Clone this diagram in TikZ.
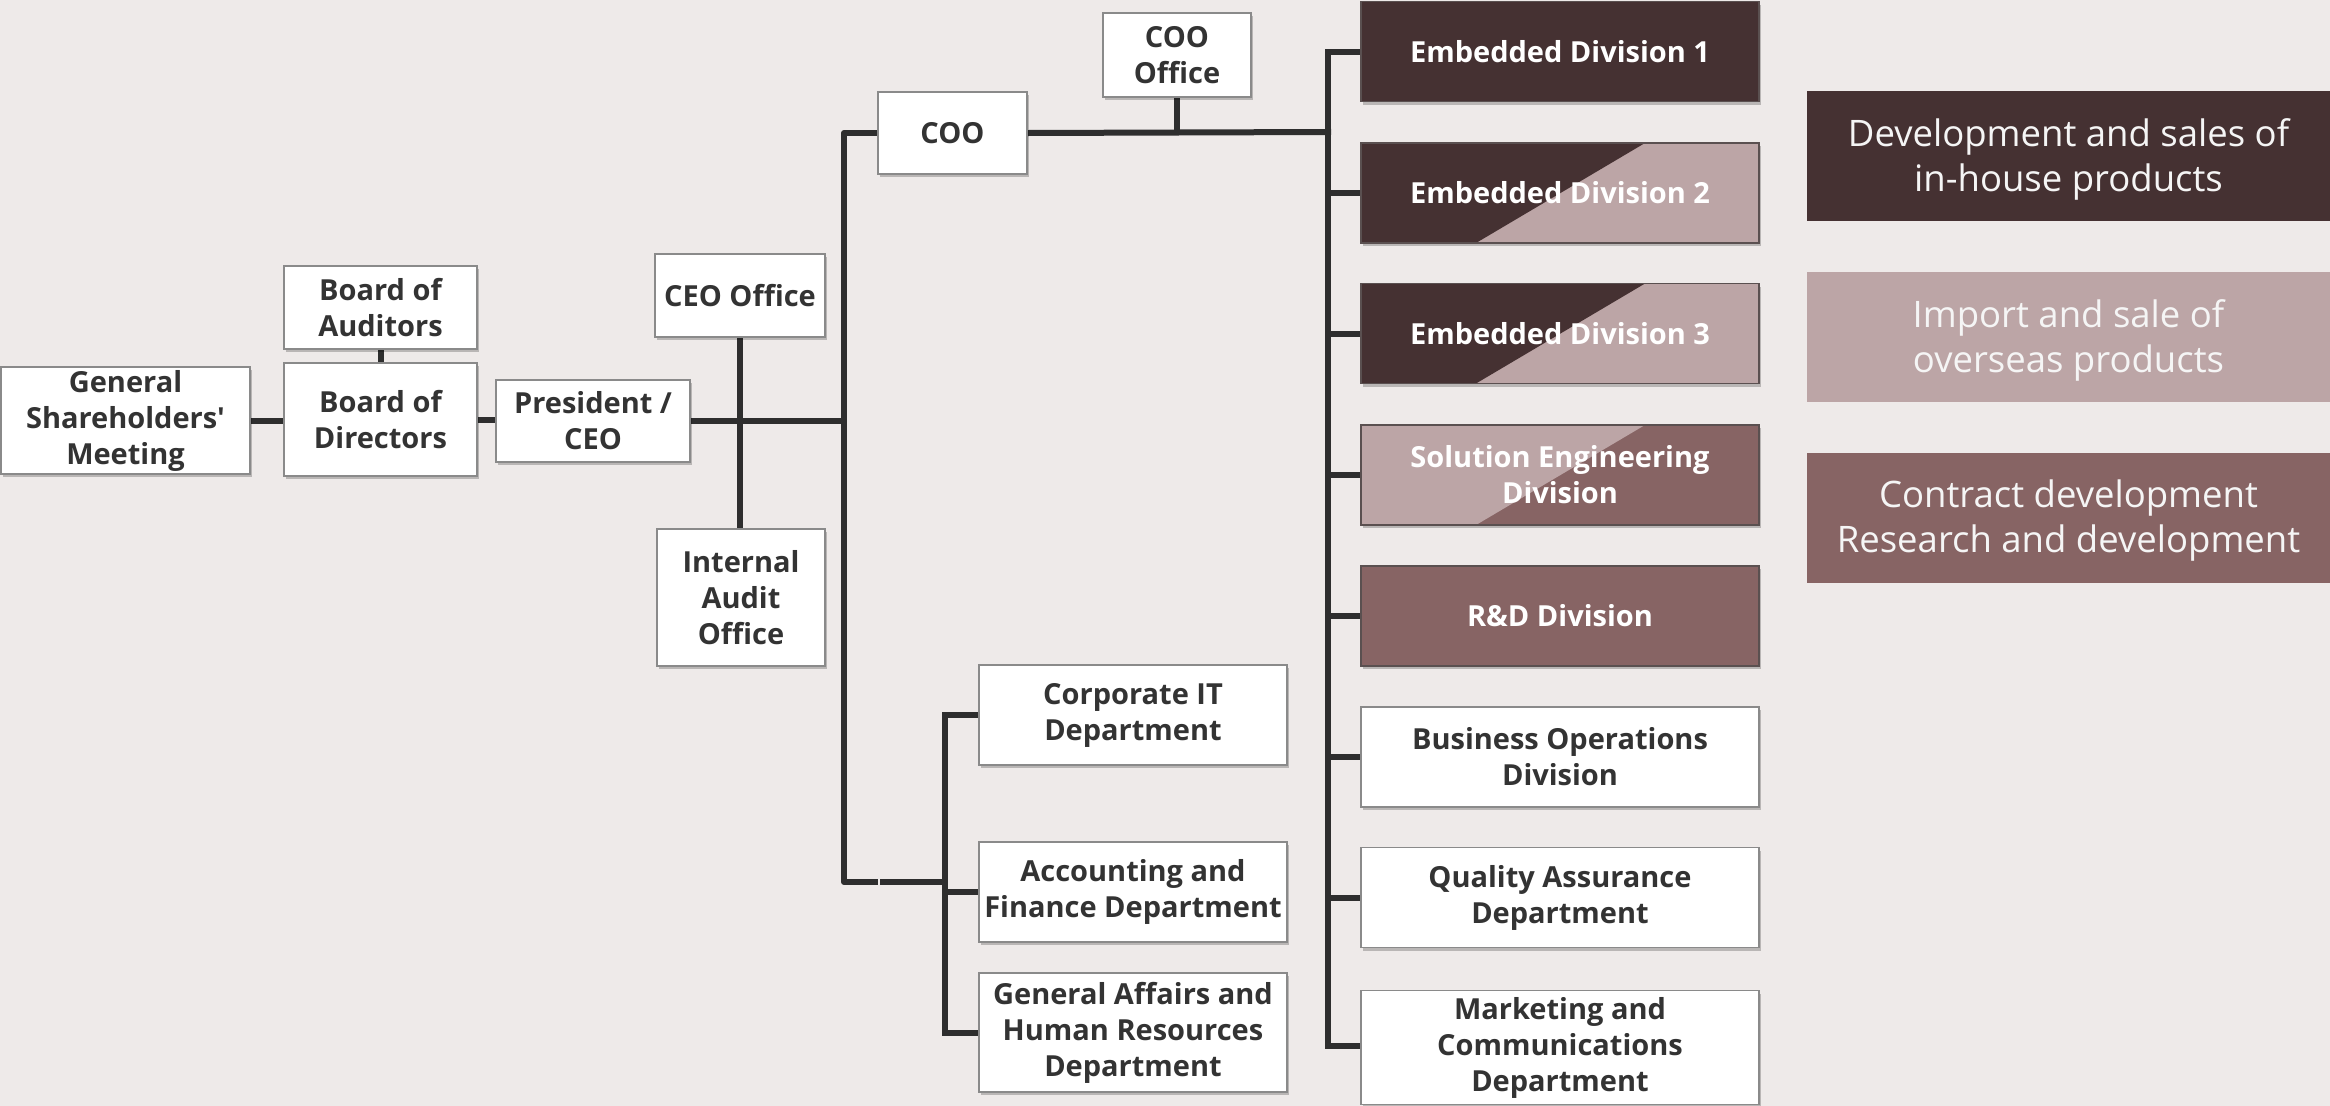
\documentclass[tikz,border=0pt]{standalone}
\usepackage{fontspec}
\setmainfont{Open Sans}[Ligatures=TeXOff]
\usetikzlibrary{shadows,backgrounds}
\definecolor{bg}{HTML}{EEEAE9}
\definecolor{dk}{HTML}{453132}
\definecolor{lt}{HTML}{BCA5A6}
\definecolor{md}{HTML}{876464}
\definecolor{ln}{HTML}{2E2E2E}
\definecolor{tx}{HTML}{333333}
\definecolor{boxline}{HTML}{8A8A8A}
\definecolor{colline}{HTML}{5A5050}
\begin{document}
\begin{tikzpicture}[x=1pt,y=-1pt,
  box/.style={draw=boxline, line width=1.5pt, fill=white, text=tx,
    font=\bfseries\fontsize{29}{36}\selectfont, align=center, inner sep=0pt,
    drop shadow={shadow xshift=1.5pt, shadow yshift=-3pt, fill=black, opacity=0.22}},
  colbox/.style={box, fill=#1, text=white, draw=colline},
  splitbox/.style 2 args={colbox=#2,
    path picture={\fill[#1] (path picture bounding box.north west) -- ++(284pt,0pt) -- ++(-169pt,-100pt) -- (path picture bounding box.south west) -- cycle;}},
  legend/.style={fill=#1, inner sep=0pt, minimum width=523pt, minimum height=130pt},
  legtext/.style={text=white!96!black, align=center, inner sep=0pt,
    font=\fontsize{36.5}{45}\selectfont},
  conn/.style={draw=ln, line width=6pt, line cap=rect, line join=round}
]
\useasboundingbox (0,0) rectangle (2330,1106);

% left part
\node[box, minimum width=249pt, minimum height=107pt] (gsm) at (125.5,420.5) {General\\Shareholders'\\Meeting};
\node[box, minimum width=193pt, minimum height=83pt] (boa) at (380.5,307.5) {Board of\\Auditors};
\node[box, minimum width=193pt, minimum height=113pt] (bod) at (380.5,419.5) {Board of\\Directors};
\node[box, minimum width=194pt, minimum height=82pt] (pres) at (593,421) {President /\\CEO};
\node[box, minimum width=170pt, minimum height=83pt] (ceoo) at (740,295.5) {CEO Office};
\node[box, minimum width=168pt, minimum height=137pt] (iao) at (741,597.5) {Internal\\Audit\\Office};
\node[box, minimum width=149pt, minimum height=82pt] (coo) at (952.5,133) {COO};
\node[box, minimum width=148pt, minimum height=84pt] (cooo) at (1177,55) {COO\\Office};

% divisions
\node[colbox=dk, minimum width=398pt, minimum height=100pt] (ed1) at (1560,51.5) {Embedded Division 1};
\node[splitbox={dk}{lt}, minimum width=398pt, minimum height=100pt] (ed2) at (1560,193) {Embedded Division 2};
\node[splitbox={dk}{lt}, minimum width=398pt, minimum height=100pt] (ed3) at (1560,333.5) {Embedded Division 3};
\node[splitbox={lt}{md}, minimum width=398pt, minimum height=100pt] (se) at (1560,475) {Solution Engineering\\Division};
\node[colbox=md, minimum width=398pt, minimum height=100pt] (rd) at (1560,616) {R\&D Division};
\node[box, minimum width=398pt, minimum height=100pt] (bo) at (1560,757) {Business Operations\\Division};
\node[box, minimum width=398pt, minimum height=100pt] (qa) at (1560,897.5) {Quality Assurance\\Department};
\node[box, minimum width=398pt, minimum height=114pt] (mc) at (1560,1047.5) {Marketing and\\Communications\\Department};

% corporate departments
\node[box, minimum width=308pt, minimum height=100pt] (cit) at (1133,715) {Corporate IT\\Department};
\node[box, minimum width=308pt, minimum height=100pt] (acc) at (1133,892) {Accounting and\\Finance Department};
\node[box, minimum width=308pt, minimum height=119pt] (ga) at (1133,1032.5) {General Affairs and\\Human Resources\\Department};

% legend
\node[legend=dk] (leg1) at (2068.5,156) {};
\node[legend=lt] (leg2) at (2068.5,337) {};
\node[legend=md] (leg3) at (2068.5,517.5) {};
\node[legtext] (leg1t) at ([yshift=-3pt]leg1.center) {Development and sales of\\in-house products};
\node[legtext] (leg2t) at ([yshift=-3.5pt]leg2.center) {Import and sale of\\overseas products};
\node[legtext] (leg3t) at ([yshift=-3pt]leg3.center) {Contract development\\Research and development};

\coordinate (tb) at (844,882);
\coordinate (g1) at (878,882);
\coordinate (g2) at (880,882);
\coordinate (lb) at (945,882);
\coordinate (rb) at (1328,132);
\coordinate (rbend) at (1328,1046);

\begin{scope}[on background layer]
\fill[bg] (0,0) rectangle (2330,1106);
\draw[conn] (gsm.east) -- (gsm.east -| bod.west);
\draw[conn] (boa.south) -- (bod.north);
\draw[conn] (bod.east) -- (bod.east -| pres.west);
\draw[conn] (pres.east) -- (pres.east -| tb);
\draw[conn] (ceoo.south) -- (ceoo.south |- iao.north);
\draw[conn, line cap=butt] (coo.west) -| (tb) -- (g1);
\draw[conn, line cap=butt] (g2) -- (lb);
\draw[conn] (coo.east) -- (rb);
\draw[conn] (cooo.south) -- (cooo.south |- rb);
\draw[conn] (ed1.west -| rb) -- (rbend);
\foreach \n in {ed1,ed2,ed3,se,rd,bo,qa} {\draw[conn] (\n.west -| rb) -- (\n.west);}
\draw[conn] (rbend) -- (rbend -| mc.west);
\draw[conn] (cit.west -| lb) -- (ga.west -| lb);
\foreach \n in {cit,acc,ga} {\draw[conn] (\n.west -| lb) -- (\n.west);}
\end{scope}
\end{tikzpicture}
\end{document}
